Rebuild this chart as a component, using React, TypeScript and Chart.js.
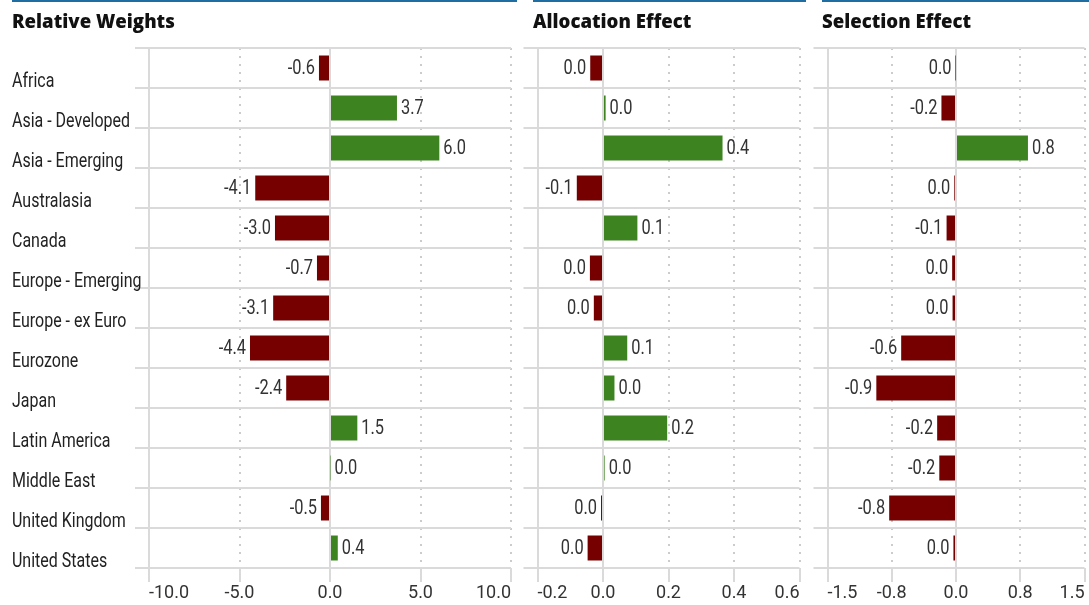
import React, { useEffect, useRef } from 'react';
import { Chart, registerables } from 'chart.js';

Chart.register(...registerables);

const categories = [
  'Africa',
  'Asia - Developed',
  'Asia - Emerging',
  'Australasia',
  'Canada',
  'Europe - Emerging',
  'Europe - ex Euro',
  'Eurozone',
  'Japan',
  'Latin America',
  'Middle East',
  'United Kingdom',
  'United States',
];

const relativeWeights = [-0.61, 3.7, 6.04, -4.13, -3.04, -0.72, -3.14, -4.42, -2.42, 1.51, 0.03, -0.5, 0.43];
const allocationEffect = [-0.039, 0.008, 0.365, -0.08, 0.105, -0.04, -0.028, 0.074, 0.035, 0.196, 0.005, -0.006, -0.047];
const selectionEffect = [-0.005, -0.17, 0.84, -0.02, -0.11, -0.045, -0.04, -0.64, -0.93, -0.22, -0.195, -0.78, -0.03];

const weightTicks = ['-10.0', '-5.0', '0.0', '5.0', '10.0'];
const allocationTicks = ['-0.2', '0.0', '0.2', '0.4', '0.6'];
const selectionTicks = ['-1.5', '-0.8', '0.0', '0.8', '1.5'];

const titles = ['Relative Weights', 'Allocation Effect', 'Selection Effect'];

const GREEN = '#3d8420';
const RED = '#760000';
const GRID = '#dadada';
const DOT = '#cccccc';
const FONT = "Roboto, 'Liberation Sans', sans-serif";
const TITLE_FONT = "'Open Sans', Roboto, sans-serif";
const W = 1089;
const H = 605;

function fmt(v: number): string {
  const r = Math.round(v * 10) / 10;
  return (r === 0 ? 0 : r).toFixed(1);
}

function drawScaled(ctx: CanvasRenderingContext2D, text: string, x: number, y: number, align: CanvasTextAlign, sx: number) {
  ctx.save();
  ctx.translate(x, y);
  ctx.scale(sx, 1);
  ctx.textAlign = align;
  ctx.fillText(text, 0, 0);
  ctx.restore();
}

const textPlugin = {
  id: 'condensedText',
  afterDatasetsDraw(chart: any, _args: any, opts: any) {
    const ctx: CanvasRenderingContext2D = chart.ctx;
    const meta = chart.getDatasetMeta(0);
    const data = chart.data.datasets[0].data as number[];
    ctx.save();
    ctx.font = `20.5px ${FONT}`;
    ctx.fillStyle = '#333333';
    ctx.textBaseline = 'middle';
    meta.data.forEach((bar: any, i: number) => {
      const v = data[i];
      const p = bar.getProps(['x', 'y'], true);
      if (v >= 0) drawScaled(ctx, fmt(v), p.x + 4, p.y + 1, 'left', 0.8);
      else drawScaled(ctx, fmt(v), p.x - 4, p.y + 1, 'right', 0.8);
    });
    if (opts && opts.showCategories) {
      const y = chart.scales.y;
      ctx.font = `19.5px ${FONT}`;
      ctx.fillStyle = '#222222';
      (chart.data.labels as string[]).forEach((lab, i) => {
        drawScaled(ctx, lab, 12, y.getPixelForValue(i) + 14, 'left', 0.82);
      });
    }
    ctx.restore();
  },
};

type PanelSpec = {
  values: number[];
  min: number;
  max: number;
  step: number;
  ticks: string[];
  padLeft: number;
  padRight: number;
  yWidth: number;
  showLabels: boolean;
};

function Panel({ spec }: { spec: PanelSpec }) {
  const ref = useRef<HTMLCanvasElement | null>(null);
  useEffect(() => {
    if (!ref.current) return;
    const isSolid = (c: any) => c.tick && (c.index === 0 || Math.abs(c.tick.value) < 1e-9);
    const chart = new Chart(ref.current, {
      type: 'bar',
      data: {
        labels: categories,
        datasets: [
          {
            data: spec.values,
            backgroundColor: spec.values.map((v) => (v >= 0 ? GREEN : RED)),
            borderWidth: 0,
            categoryPercentage: 1,
            barPercentage: 0.625,
          },
        ],
      },
      options: {
        indexAxis: 'y',
        animation: false,
        responsive: false,
        devicePixelRatio: 1,
        layout: { padding: { left: spec.padLeft, right: spec.padRight, top: 48, bottom: 0 } },
        plugins: {
          legend: { display: false },
          tooltip: { enabled: false },
          title: { display: false },
          condensedText: { showCategories: spec.showLabels },
        },
        scales: {
          x: {
            type: 'linear',
            min: spec.min,
            max: spec.max,
            ticks: {
              stepSize: spec.step,
              autoSkip: false,
              maxRotation: 0,
              align: 'inner',
              padding: 1,
              color: '#333333',
              font: { family: FONT, size: 18 },
              callback: (value: any, index: number) => spec.ticks[index] ?? String(value),
            },
            grid: {
              color: (c: any) => (isSolid(c) ? GRID : DOT),
              lineWidth: 2,
              drawTicks: true,
              tickLength: 14,
              tickColor: GRID,
              tickWidth: 2,
            },
            border: {
              display: false,
              dash: (c: any) => (isSolid(c) ? [] : [2, 6]),
            },
            afterFit: (s: any) => {
              s.height = 37;
              s.paddingLeft = 0;
              s.paddingRight = 0;
            },
          },
          y: {
            type: 'category',
            offset: true,
            ticks: { display: false },
            grid: {
              offset: true,
              color: GRID,
              lineWidth: 2,
              drawTicks: true,
              tickLength: 14,
              tickColor: GRID,
              tickWidth: 2,
            },
            border: { display: false },
            afterFit: (s: any) => {
              s.width = spec.yWidth;
              s.paddingTop = 0;
              s.paddingBottom = 0;
            },
          },
        },
      },
      plugins: [textPlugin],
    } as any);
    return () => chart.destroy();
  }, [spec]);
  return (
    <canvas
      ref={ref}
      width={W}
      height={H}
      style={{ position: 'absolute', left: 0, top: 0, width: W, height: H }}
    />
  );
}

const specs: PanelSpec[] = [
  { values: relativeWeights, min: -10, max: 10, step: 5, ticks: weightTicks, padLeft: 12, padRight: W - 511, yWidth: 137, showLabels: true },
  { values: allocationEffect, min: -0.2, max: 0.6, step: 0.2, ticks: allocationTicks, padLeft: 537.5 - 14, padRight: W - 799.5, yWidth: 14, showLabels: false },
  { values: selectionEffect, min: -1.5, max: 1.5, step: 0.75, ticks: selectionTicks, padLeft: 827.5 - 14, padRight: W - 1084.5, yWidth: 14, showLabels: false },
];
const titleBlocks = [
  { left: 12, width: 505 },
  { left: 533, width: 273 },
  { left: 822, width: 267 },
];

export default function App() {
  return (
    <div style={{ position: 'absolute', left: 0, top: 0, width: W, height: H, overflow: 'hidden', background: '#ffffff' }}>
      {specs.map((s, i) => (
        <Panel key={i} spec={s} />
      ))}
      {titles.map((t, i) => (
        <div
          key={t}
          style={{
            position: 'absolute',
            left: titleBlocks[i].left,
            top: 0,
            width: titleBlocks[i].width,
            height: 36,
            borderTop: '2px solid #1f6ea3',
          }}
        >
          <div
            style={{
              position: 'absolute',
              left: 0,
              top: 9,
              fontFamily: TITLE_FONT,
              fontWeight: 800,
              fontSize: 20,
              lineHeight: '20px',
              color: '#111111',
              whiteSpace: 'nowrap',
              transform: 'scaleX(0.93)',
              transformOrigin: '0 0',
            }}
          >
            {t}
          </div>
        </div>
      ))}
    </div>
  );
}
